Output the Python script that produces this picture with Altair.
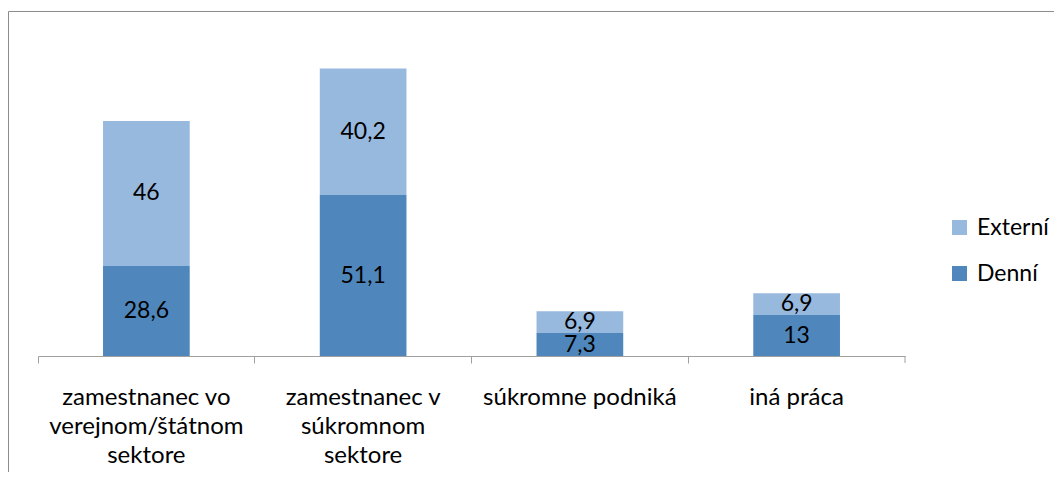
import altair as alt
import pandas as pd

categories = ["zamestnanec vo\nverejnom/štátnom\nsektore", "zamestnanec v\nsúkromnom\nsektore", "súkromne podniká", "iná práca"]
series = ["Denní", "Externí"]
denni = [28.6, 51.1, 7.3, 13]
externi = [46, 40.2, 6.9, 6.9]

rows = []
for i, c in enumerate(categories):
    rows.append({"cat": c, "series": "Denní", "ord": 0, "value": denni[i]})
    rows.append({"cat": c, "series": "Externí", "ord": 1, "value": externi[i]})
df = pd.DataFrame(rows)

FONT = "Lato"
DARK = "#4F87BD"
LIGHT = "#98B9DE"

base = alt.Chart(df).transform_stack(
    stack="value", groupby=["cat"], as_=["y0", "y1"], sort=[alt.SortField("ord", "ascending")]
).transform_calculate(
    mid="(datum.y0 + datum.y1) / 2",
    lab="replace(toString(datum.value), '.', ',')",
)

xenc = alt.X("cat:N", sort=categories, title=None,
             scale=alt.Scale(paddingInner=0, paddingOuter=0),
             axis=alt.Axis(labelAngle=0, bandPosition=0, domainColor="#A0A0A0", tickColor="#A0A0A0",
                           tickSize=7, labelFont=FONT, labelFontSize=24, labelFontWeight="normal",
                           labelColor="#000000", labelLimit=1000,
                           labelLineHeight=29, labelPadding=22, labelBaseline="top",
                           labelExpr="split(datum.label, '\\n')"))

bars = base.mark_bar(width=alt.RelativeBandSize(0.4)).encode(
    x=xenc,
    y=alt.Y("y0:Q", scale=alt.Scale(domain=[0, 100], nice=False), axis=None),
    y2="y1:Q",
    color=alt.Color("series:N", scale=alt.Scale(domain=["Externí", "Denní"], range=[LIGHT, DARK]),
                    legend=alt.Legend(title=None, orient="none", legendX=910, legendY=175,
                                      symbolType="square", symbolSize=225, symbolStrokeWidth=0,
                                      labelFont=FONT, labelFontSize=23, labelFontWeight="normal",
                                      labelColor="#000000", labelLimit=1000,
                                      rowPadding=22, labelOffset=6)),
)

texts = base.mark_text(font=FONT, fontSize=23, color="#000000", baseline="middle").encode(
    x=alt.X("cat:N", sort=categories),
    y=alt.Y("mid:Q"),
    text="lab:N",
)

endtick = alt.Chart(pd.DataFrame({"a": [0]})).mark_rule(color="#A0A0A0").encode(
    x=alt.value(867), y=alt.value(315), y2=alt.value(322)
)

frame = alt.Chart(pd.DataFrame({"a": [0]})).mark_rect(fillOpacity=0, stroke="#8C8C8C", strokeWidth=1).encode(
    x=alt.value(-29.5), x2=alt.value(1200), y=alt.value(-29.5), y2=alt.value(800)
)

chart = alt.layer(frame, bars, texts, endtick).properties(
    width=867, height=315,
    autosize=alt.AutoSizeParams(type="none"),
    padding={"left": 30, "top": 33, "right": 149, "bottom": 116},
).configure_view(stroke=None)

chart.save("out.html", embed_options={"renderer": "svg", "actions": False})
